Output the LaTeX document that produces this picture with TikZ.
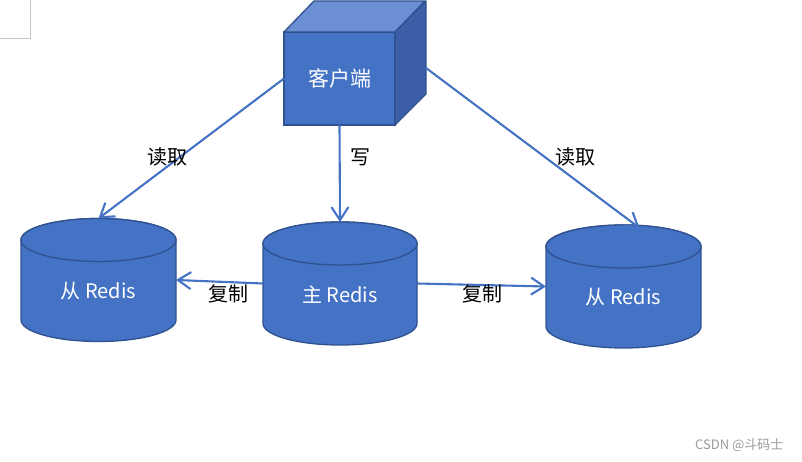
\documentclass[tikz,border=0pt]{standalone}
\usepackage{fontspec}
\setmainfont{Noto Sans CJK SC}
\usetikzlibrary{arrows.meta}
\definecolor{fillblue}{HTML}{4472C4}
\definecolor{edgeblue}{HTML}{2F528F}
\definecolor{topblue}{HTML}{6C8ED3}
\definecolor{sideblue}{HTML}{3B5EA6}
\definecolor{linkblue}{HTML}{4472C4}
\definecolor{cornergray}{HTML}{C6C6C6}
\definecolor{wmgray}{HTML}{9A9A9A}
\newcommand\drawdb[2]{%
  \path[dbshape] ([yshift=-21.5pt]#1.north west) -- ([yshift=21.5pt]#1.south west)
    arc[start angle=180,end angle=360,x radius=#2pt,y radius=21.5pt]
    -- ([yshift=-21.5pt]#1.north east)
    arc[start angle=0,end angle=180,x radius=#2pt,y radius=21.5pt] -- cycle;
  \path[dbshape] ([yshift=-21.5pt]#1.north) ellipse[x radius=#2pt,y radius=21.5pt];}
\begin{document}
\begin{tikzpicture}[x=1pt,y=1pt,
  cubefront/.style={draw=edgeblue, line width=1.3pt, fill=fillblue, minimum width=111pt,
    minimum height=93pt, inner sep=0pt, outer sep=0pt, text=white, font=\fontsize{21}{24}\selectfont},
  cubeface/.style={draw=edgeblue, line width=1.3pt, line join=round},
  dbbox/.style={inner sep=0pt, outer sep=0pt, minimum height=123pt},
  dbshape/.style={draw=edgeblue, line width=1.3pt, fill=fillblue},
  dbtext/.style={text=white, font=\fontsize{20}{24}\selectfont},
  link/.style={draw=linkblue, line width=2.1pt, -{Straight Barb[length=13pt,width=17pt]}},
  lbl/.style={text=black, font=\fontsize{20}{24}\selectfont},
]
\useasboundingbox (0,0) rectangle (802,462);
% stray corner lines
\draw[cornergray, line width=1pt] (30,462) -- (30,423) -- (0,423);
% cube
\node[cubefront] (c) at (339.5,383.5) {客户端};
\path[cubeface, fill=topblue] (c.north west) -- ++(30,31) -- ++(111,0) -- (c.north east) -- cycle;
\path[cubeface, fill=sideblue] (c.north east) -- ++(31,31) -- ++(0,-93) -- (c.south east) -- cycle;
\coordinate (cr) at ([xshift=31pt,yshift=10.5pt]c.east);
% databases
\node[dbbox, minimum width=155pt] (s1) at (98.5,182) {};
\node[dbbox, minimum width=154pt] (m) at (340,178.5) {};
\node[dbbox, minimum width=155pt] (s2) at (623.5,175.5) {};
\drawdb{s1}{77.5}
\drawdb{m}{77}
\drawdb{s2}{77.5}
\node[dbtext] (s1t) at ([yshift=-11pt]s1.center) {从 Redis};
\node[dbtext] (mt) at ([yshift=-11pt]m.center) {主 Redis};
\node[dbtext] (s2t) at ([yshift=-11pt]s2.center) {从 Redis};
\coordinate (s2in) at ([xshift=16pt,yshift=-3pt]s2.north);
% connectors
\draw[link] (c.west) -- (s1.north);
\draw[link] (c.south) -- (m.north);
\draw[link] (cr) -- (s2in);
\draw[link] (m.west) -- (s1.east);
\draw[link] (m.east) -- (s2.west);
% labels
\node[lbl] (l1) at (167,305) {读取};
\node[lbl] (l2) at (360,305) {写};
\node[lbl] (l3) at (575,305) {读取};
\node[lbl] (l4) at (228,168) {复制};
\node[lbl] (l5) at (482,168) {复制};
% watermark
\node[text=wmgray, font=\fontsize{13}{15}\selectfont, anchor=east] (wm) at (787,17) {CSDN @斗码士};
\end{tikzpicture}
\end{document}
